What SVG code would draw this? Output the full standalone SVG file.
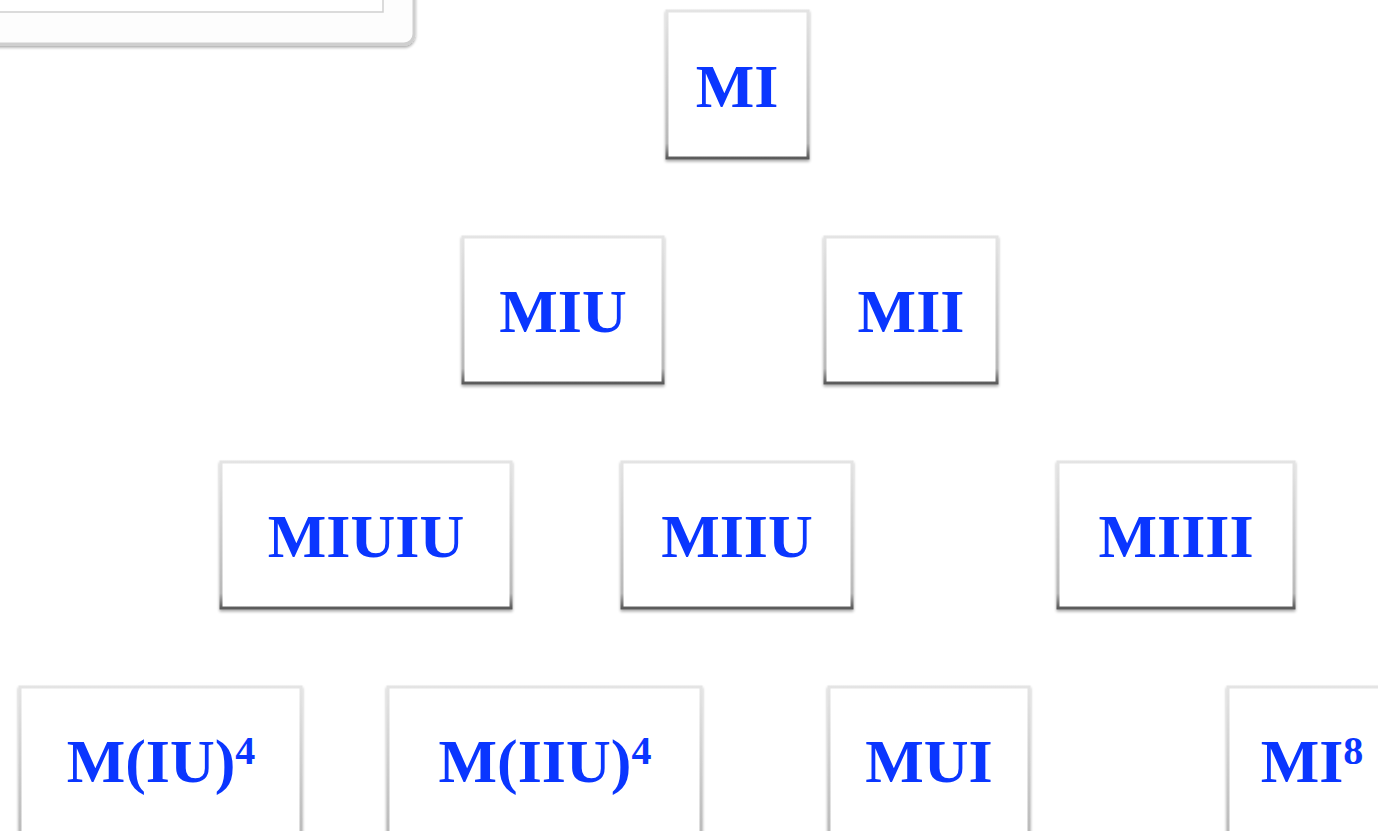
<svg xmlns="http://www.w3.org/2000/svg" width="1378" height="831" viewBox="0 0 1378 831">
<defs>
<linearGradient id="bord" x1="0" y1="0" x2="0" y2="1">
<stop offset="0" stop-color="#e4e4e4"/>
<stop offset="0.9" stop-color="#b8b8b8"/>
<stop offset="1" stop-color="#5a5a5a"/>
</linearGradient>
<filter id="sh" x="-5%" y="-5%" width="110%" height="115%">
<feGaussianBlur in="SourceAlpha" stdDeviation="1.5"/>
<feOffset dy="2"/>
<feComponentTransfer><feFuncA type="linear" slope="0.35"/></feComponentTransfer>
<feMerge><feMergeNode/><feMergeNode in="SourceGraphic"/></feMerge>
</filter>
</defs>
<style>
.box{fill:#fff;stroke:url(#bord);stroke-width:3;filter:url(#sh)}
.t{font-family:"Liberation Serif","Times New Roman",serif;font-weight:bold;font-size:62px;fill:#0a36ff;text-anchor:middle}
.sup{font-size:40px}
</style>
<rect width="1378" height="831" fill="#fff"/>
<g id="panel">
<rect x="-20" y="-20" width="434" height="64" rx="10" fill="#fdfdfd" stroke="#cfcfcf" stroke-width="3" filter="url(#sh)"/>
<rect x="-10" y="-10" width="393" height="22" fill="#fff" stroke="#cfcfcf" stroke-width="1.5"/>
</g>
<g id="connectors"></g>
<g id="n-MI"><rect class="box" x="667" y="11" width="141" height="147"/><text class="t" x="737" y="107">MI</text></g>
<g id="n-MIU"><rect class="box" x="463" y="237" width="200" height="146"/><text class="t" x="563" y="332">MIU</text></g>
<g id="n-MII"><rect class="box" x="825" y="237" width="172" height="146"/><text class="t" x="911" y="332">MII</text></g>
<g id="n-MIUIU"><rect class="box" x="221" y="462" width="290" height="146"/><text class="t" x="366" y="557">MIUIU</text></g>
<g id="n-MIIU"><rect class="box" x="622" y="462" width="230" height="146"/><text class="t" x="737" y="557">MIIU</text></g>
<g id="n-MIIII"><rect class="box" x="1058" y="462" width="236" height="146"/><text class="t" x="1176" y="557">MIIII</text></g>
<g id="n-MIU4"><rect class="box" x="20" y="687" width="281" height="170"/><text class="t" x="161" y="782">M(IU)<tspan class="sup" dy="-18">4</tspan></text></g>
<g id="n-MIIU4"><rect class="box" x="388" y="687" width="313" height="170"/><text class="t" x="545" y="782">M(IIU)<tspan class="sup" dy="-18">4</tspan></text></g>
<g id="n-MUI"><rect class="box" x="829" y="687" width="200" height="170"/><text class="t" x="929" y="782">MUI</text></g>
<g id="n-MI8"><rect class="box" x="1228" y="687" width="200" height="170"/><text class="t" x="1312" y="782">MI<tspan class="sup" dy="-18">8</tspan></text></g>
</svg>
